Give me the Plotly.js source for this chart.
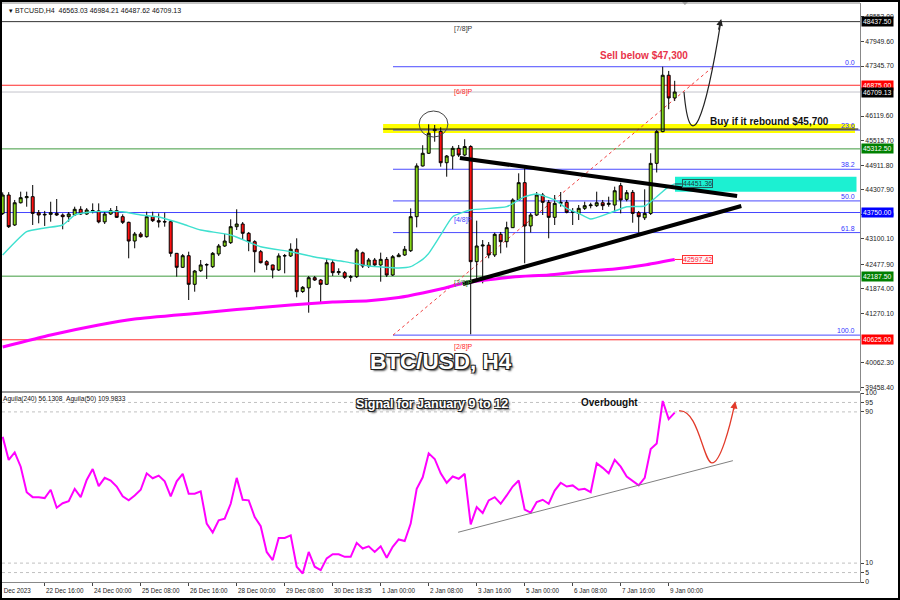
<!DOCTYPE html>
<html><head><meta charset="utf-8">
<script src="https://cdn.plot.ly/plotly-3.0.1.min.js"></script>
<style>
html,body{margin:0;padding:0;background:#fff;}
#wrap{position:relative;width:900px;height:600px;overflow:hidden;}
#chart{width:900px;height:600px;}
#frame{position:absolute;left:0;top:0;width:900px;height:600px;box-sizing:border-box;border:2px solid #000;pointer-events:none;}
</style></head><body>
<div id="wrap"><div id="chart"></div><div id="frame"></div></div>
<script>
// ---------------- DATA ----------------
const symbol = 'BTCUSD';
const timeframe = 'H4';

const barOpen = [43729,44180,43444,43990,44114,44139,43746,43689,43705,43729,
43689,43648,43689,43829,43713,43795,43790,43520,43713,43795,
43648,43510,43050,43222,43157,43648,43550,43517,43525,42748,
42405,42690,41987,42321,42462,42420,42732,42928,43010,43402,
43468,43240,43034,42788,42543,42462,42339,42683,42683,42848,
41810,41900,42150,42093,41987,42518,42273,42273,42159,42175,
42760,42437,42584,42462,42600,42216,42665,42707,42812,43648,
44893,45205,45760,45740,44973,45138,45327,45162,45370,42543,
42928,42950,42707,43215,43034,43378,44058,44483,43420,43689,
44180,44000,43632,43975,44000,43755,43729,43853,43918,43918,
43990,43950,43934,44410,44073,44245,43746,43620,43729,44958,
45737,47121,46563.03];

const barHigh = [44246,44250,44058,44262,44262,44426,43812,43790,44015,44082,
43729,43763,43893,43905,43860,43975,43975,43763,43860,43910,
43705,43525,43272,43272,43770,43770,43729,43746,43566,42757,
42732,42788,42339,42584,42503,42780,42978,43222,43584,43829,
43517,43272,43070,42830,42580,42470,42748,42732,42994,43117,
41945,42192,42192,42118,42626,42584,42380,42314,42216,42872,
42790,42634,42634,42765,42658,42707,42757,42928,43853,44958,
45403,45916,45899,45842,45162,45384,45408,45550,45403,43550,
43075,43025,43255,43272,43525,44100,44713,44836,43738,44254,
44230,44058,44180,44254,44058,43860,43934,44015,43990,44262,
44058,44139,44385,44482,44303,44303,43787,44320,45205,45778,
47330,47227,46984.21];

const barLow = [43689,43370,43420,43972,43893,43444,43485,43420,43525,43664,
43338,43525,43664,43689,43689,43729,43485,43468,43689,43616,
43468,42626,42872,43132,43132,43517,43383,43402,42665,42175,
42388,41602,41806,42290,42118,42388,42683,42904,42978,43321,
43100,42800,42280,42500,42339,42135,42314,42257,42658,41668,
41775,41290,42069,41520,41970,42192,42216,42118,42052,42142,
42388,42388,42437,42052,42167,42192,42658,42683,42780,43386,
44880,45188,45489,44875,44630,44812,45113,45138,40760,42093,
42011,42626,42658,42748,42890,43370,44050,42503,43260,43664,
43689,43117,43444,43893,43730,43444,43566,43812,43853,43885,
43812,43893,43770,43729,44025,43500,43255,43566,43689,44733,
45722,46287,46487.62];

const barClose = [44180,43402,43990,44114,44139,43729,43689,43705,43746,43689,
43648,43713,43829,43713,43812,43800,43520,43713,43795,43632,
43510,43050,43222,43157,43648,43550,43517,43525,42748,42405,
42690,41987,42314,42462,42470,42748,42928,43050,43402,43468,
43240,43034,42788,42518,42462,42339,42683,42690,42848,41806,
41913,42150,42093,41987,42518,42273,42298,42159,42175,42830,
42437,42584,42462,42600,42216,42665,42707,42848,43648,44893,
45205,45696,45794,44973,45138,45327,45162,45370,42543,42928,
42950,42707,43215,43034,43378,44058,44483,43420,43689,44180,
44000,43632,43975,44000,43755,43770,43853,43918,43934,43990,
43918,43975,44285,44058,44237,43729,43648,43729,44958,45737,
47121,46563,46709.13];

// Fast moving average (cyan) read at selected bars
const cyanIdx = [0,4,7,10,12,15,20,23,26,30,33,38,43,48,52,57,61,66,68,70,71,73,75,78,84,87,89,92,94,96,98,101,104,107,109,111,112];
const cyanVal = [42707,43280,43370,43444,43689,43770,43770,43689,43640,43468,43321,43198,42910,42788,42658,42543,42437,42388,42420,42600,42748,43200,43648,43812,43893,44139,44205,44058,43853,43729,43590,43729,43893,43910,44139,44385,44451.36];

// Slow moving average (magenta) read at selected bars
const magIdx = [0,8,16,22,33,39,48,55,61,66,70,73,77,85,91,96,102,107,112];
const magVal = [40448,40742,40988,41135,41282,41368,41479,41553,41585,41663,41774,41872,42020,42167,42216,42297,42363,42462,42597.42];

// Aguila oscillator (lower panel), one value per bar
const oscVal = [76.8,64.6,68.6,61,47.5,44.9,44.9,44.4,48.8,39.3,
41.7,42.8,49.3,44.9,54,59.8,50.7,55.1,53.7,50.5,
45.3,43.2,45.8,48.8,57.5,54.9,56.3,53.3,45.3,53.3,
57.2,46.7,46.7,48,30.9,26.2,32.6,33.5,41.4,55.1,
43.5,43.2,34.4,29.5,15.9,11.6,23.3,23.3,24.7,8.1,
4.5,15.9,8.1,6.3,12.5,14.7,14.7,13.3,13.3,20.7,
17.7,18.9,15.9,18.9,12.8,18.6,22.5,21.7,30.9,49.3,
55.4,68.1,65.1,57.5,52.5,55.8,54.6,57.2,30.5,39.6,
36.5,43.2,44.9,41.4,45.8,50.5,53.7,38.3,36.7,42.3,
43.5,41.4,48.4,52.5,50.5,51.1,48.8,49.3,47.5,62.8,
60.4,57.5,64.6,61,55.8,53.3,51.1,55.1,70.4,73.3,
95.8,86.2,89.6];
const oscHeader = 'Aguila(240) 56.1308\u00a0\u00a0Aguila(50) 109.9833';

// Time axis
const tickIdx = [7,15,23,31,39,47,55,63,71,79,87,95,103,111];
const tickLabels = ['22 Dec 16:00','24 Dec 00:00','25 Dec 08:00','26 Dec 16:00','28 Dec 00:00','29 Dec 08:00','30 Dec 18:35','1 Jan 00:00','2 Jan 08:00','3 Jan 16:00','5 Jan 00:00','6 Jan 08:00','7 Jan 16:00','9 Jan 00:00'];
const firstTickLabel = '21 Dec 2023';

// Price axis labels
const priceTicks = [48553.00,47949.60,47345.70,46119.60,45515.70,44911.80,44307.90,43704.00,43100.10,42477.90,41874.00,41270.10,40062.30,39458.40];
const oscTicks = [0,5,10,90,95,100];
const oscGrid = [5,10,90,95];

// Murrey math levels
const murreyLevels = [48437.5,46875,45312.5,43750,42187.5,40625];
const murreyNames = ['[7/8]P','[6/8]P','[5/8]P','[4/8]P','[3/8]P','[2/8]P'];
const murreyColors = ['#333333','#ff2b2b','#3f9b3f','#4444ff','#3f9b3f','#ff2b2b'];
const murreyBoxColors = ['#000000','#ff0000','#008000','#0000ff','#008000','#ff0000'];

// Fibonacci retracement
const fibHigh = 47330, fibLow = 40740;
const fibRatios = [0,0.236,0.382,0.5,0.618,1];
const fibLabels = ['0.0','23.6','38.2','50.0','61.8','100.0'];

// Analyst zones / notes
const buyZone = [45703,45924];
const buyLine = 45800;
const smaZone = [44262,44630];

// ---------------- BUILD ----------------
const idx = barOpen.map((_, k) => k);
const last = barClose.length - 1;
const XR = [-0.1167, 142.883];
const XRIGHT = 142.4;
const priceRange = [39367.6, 48894.9];
const fmt = v => v.toFixed(2);
const txtFont = 'Liberation Sans, Arial, sans-serif';

const traces = [
  {type:'candlestick', x:idx, open:barOpen, high:barHigh, low:barLow, close:barClose,
   xaxis:'x', yaxis:'y', hoverinfo:'skip', whiskerwidth:0,
   increasing:{line:{color:'#000',width:1}, fillcolor:'#86d817'},
   decreasing:{line:{color:'#000',width:1}, fillcolor:'#ff1010'}},
  {type:'scatter', mode:'lines', x:cyanIdx, y:cyanVal, xaxis:'x', yaxis:'y',
   line:{color:'#3fe0cf', width:1.4, shape:'spline', smoothing:0.5}, hoverinfo:'skip'},
  {type:'scatter', mode:'lines', x:magIdx, y:magVal, xaxis:'x', yaxis:'y',
   line:{color:'#ff00ff', width:3, shape:'spline', smoothing:0.5}, hoverinfo:'skip'},
  {type:'scatter', mode:'lines', x:idx, y:oscVal, xaxis:'x', yaxis:'y2',
   line:{color:'#ff00ff', width:2}, hoverinfo:'skip'}
];

const shapes = [];
const ann = [];

// panel frame pieces
shapes.push({type:'line', xref:'paper', yref:'paper', x0:0, x1:1, y0:1, y1:1, line:{color:'#888', width:1}});
shapes.push({type:'rect', xref:'paper', yref:'paper', x0:0, x1:1, y0:0.32642, y1:0.32988, fillcolor:'#9a9a9a', line:{width:0}});

// yellow buy zone
shapes.push({type:'rect', xref:'x', yref:'y', x0:63.4, x1:142.05, y0:buyZone[0], y1:buyZone[1], fillcolor:'#ffff00', line:{width:0}, layer:'below'});
// cyan zone
shapes.push({type:'rect', xref:'x', yref:'y', x0:112.05, x1:142.3, y0:smaZone[0], y1:smaZone[1], fillcolor:'#1cf0d2', line:{width:0}, layer:'below'});

// murrey lines
murreyLevels.forEach((lv, k) => {
  shapes.push({type:'line', xref:'paper', yref:'y', x0:0, x1:1, y0:lv, y1:lv, line:{color:murreyColors[k], width:1}, layer:'below'});
  ann.push({xref:'paper', x:1, xanchor:'left', xshift:1, yref:'y', y:lv, yanchor:'middle', text:fmt(lv), showarrow:false,
    font:{family:txtFont, size:6.8, color:'#fff'}, bgcolor:murreyBoxColors[k], borderpad:1});
  if (k !== 2) {
    ann.push({xref:'x', x:76.8, xanchor:'center', yref:'y', y:lv, yanchor:'top', yshift:-1, text:murreyNames[k], showarrow:false,
      font:{family:txtFont, size:7, color:murreyColors[k]}});
  }
});

// current price line
const cur = barClose[last];
shapes.push({type:'line', xref:'paper', yref:'y', x0:0, x1:1, y0:cur, y1:cur, line:{color:'#c4c4cc', width:1}, layer:'below'});
ann.push({xref:'paper', x:1, xanchor:'left', xshift:1, yref:'y', y:cur, yanchor:'middle', text:fmt(cur), showarrow:false,
  font:{family:txtFont, size:6.8, color:'#fff'}, bgcolor:'#000', borderpad:1});

// fibonacci
const fibStart = 65.05, fibEnd = 118.4;
fibRatios.forEach((r, k) => {
  const lv = fibHigh - r * (fibHigh - fibLow);
  shapes.push({type:'line', xref:'x', yref:'y', x0:fibStart, x1:142.883, y0:lv, y1:lv, line:{color:'#4b4bff', width:1}, layer:'below'});
  ann.push({xref:'x', x:XRIGHT, xanchor:'right', yref:'y', y:lv, yanchor:'bottom', yshift:-1, text:fibLabels[k], showarrow:false,
    font:{family:txtFont, size:7, color:'#3535ff'}});
});
shapes.push({type:'line', xref:'x', yref:'y', x0:fibStart, x1:fibEnd, y0:fibLow, y1:fibHigh, line:{color:'#f04040', width:1, dash:'dot'}, layer:'below'});

// black line in yellow band
shapes.push({type:'line', xref:'x', yref:'y', x0:63.4, x1:142.6, y0:buyLine, y1:buyLine, line:{color:'#111', width:1}});

// triangle trendlines
shapes.push({type:'line', xref:'x', yref:'y', x0:76.2, y0:45089, x1:122.4, y1:44156, line:{color:'#000', width:4}});
shapes.push({type:'line', xref:'x', yref:'y', x0:76.7, y0:41995, x1:123.1, y1:43910, line:{color:'#000', width:4}});

// circle on double top
shapes.push({type:'circle', xref:'x', yref:'y', x0:69.4, x1:74.2, y0:45604, y1:46243, line:{color:'#444', width:1}});

// projection curve (price)
shapes.push({type:'path', xref:'x', yref:'y', path:'M 113.55,46709 C 114.55,45040 117.05,46022 119.7,48450', line:{color:'#222', width:1.2}});
ann.push({xref:'x', yref:'y', x:119.75, y:48500, ax:-3, ay:12, showarrow:true, arrowhead:2, arrowsize:1.1, arrowwidth:1.2, arrowcolor:'#222', text:''});

// MA value labels
shapes.push({type:'line', xref:'x', yref:'y', x0:112, x1:113.2, y0:cyanVal[cyanVal.length-1], y1:cyanVal[cyanVal.length-1], line:{color:'#234', width:1}});
ann.push({xref:'x', x:113.2, xanchor:'left', yref:'y', y:cyanVal[cyanVal.length-1], yanchor:'middle', text:fmt(cyanVal[cyanVal.length-1]), showarrow:false,
  font:{family:txtFont, size:7, color:'#1b3b3b'}, bgcolor:'#1cf0d2', bordercolor:'#2a5a5a', borderwidth:1, borderpad:0});
shapes.push({type:'line', xref:'x', yref:'y', x0:112, x1:113.2, y0:magVal[magVal.length-1], y1:magVal[magVal.length-1], line:{color:'#ff3030', width:1}});
ann.push({xref:'x', x:113.2, xanchor:'left', yref:'y', y:magVal[magVal.length-1], yanchor:'middle', text:fmt(magVal[magVal.length-1]), showarrow:false,
  font:{family:txtFont, size:7, color:'#ff2040'}, bgcolor:'#fff4f4', bordercolor:'#ff3030', borderwidth:1, borderpad:0});

// oscillator grid and drawings
oscGrid.forEach(v => shapes.push({type:'line', xref:'paper', yref:'y2', x0:0, x1:1, y0:v, y1:v, line:{color:'#c0c0c0', width:1, dash:'dot'}, layer:'below'}));
shapes.push({type:'line', xref:'x', yref:'y2', x0:75.9, y0:26.3, x1:121.7, y1:64.2, line:{color:'#808080', width:1}});
shapes.push({type:'path', xref:'x', yref:'y2', path:'M 112.72,90.5 C 115.9,92 116.8,63 118.22,63 C 119.6,63 121.2,82 122.0,94.2', line:{color:'#e23a2a', width:1.3}});
ann.push({xref:'x', yref:'y2', x:122.1, y:95.6, ax:-2, ay:10, showarrow:true, arrowhead:2, arrowsize:1.1, arrowwidth:1.3, arrowcolor:'#e23a2a', text:''});

// top chart-shift marker
shapes.push({type:'path', xref:'paper', yref:'paper', path:'M 0.7902,1.0052 L 0.8019,1.0052 L 0.796,0.9965 Z', fillcolor:'#9a9a9a', line:{width:0}});

// header texts
ann.push({xref:'paper', x:0, xanchor:'left', xshift:5, yref:'paper', y:1, yanchor:'middle', yshift:-7,
  text:'\u25be ' + symbol + ',' + timeframe + '\u00a0\u00a0' + [barOpen[last], barHigh[last], barLow[last], barClose[last]].map(fmt).join(' '),
  showarrow:false, font:{family:txtFont, size:7, color:'#111'}});
ann.push({xref:'paper', x:0, xanchor:'left', xshift:-1, yref:'y2 domain', y:1, yanchor:'top', yshift:0, text:oscHeader,
  showarrow:false, font:{family:txtFont, size:6.6, color:'#111'}});

// annotation texts
const outline = '-1px -1px 0 #222, 1px -1px 0 #222, -1px 1px 0 #222, 1px 1px 0 #222, 2px 2px 2px #555';
ann.push({xref:'x', yref:'y', x:73.05, y:40129, yshift:-2, text:'<b>BTC/USD, H4</b>', showarrow:false,
  font:{family:txtFont, size:22.5, color:'#ffffff', shadow:outline}});
ann.push({xref:'x', yref:'y2', x:71.55, y:94.2, text:'<b>Signal for January 9 to 12</b>', showarrow:false,
  font:{family:txtFont, size:12.5, color:'#ffffff', shadow:outline}});
ann.push({xref:'x', yref:'y2', x:101.13, y:95.2, text:'<b>Overbought</b>', showarrow:false,
  font:{family:txtFont, size:10, color:'#111'}});
ann.push({xref:'x', yref:'y', x:106.9, y:47594, text:'<b>Sell below $47,300</b>', showarrow:false,
  font:{family:txtFont, size:10, color:'#e8334a'}});
ann.push({xref:'x', yref:'y', x:127.8, y:45997, text:'<b>Buy if it rebound $45,700</b>', showarrow:false,
  font:{family:txtFont, size:10, color:'#111'}});

// time labels
tickIdx.forEach((t, k) => ann.push({xref:'x', x:t, xanchor:'left', xshift:-1, yref:'paper', y:0, yanchor:'middle', yshift:-8,
  text:tickLabels[k], showarrow:false, font:{family:txtFont, size:6.3, color:'#222'}}));
ann.push({xref:'x', x:5.1, xanchor:'right', yref:'paper', y:0, yanchor:'middle', yshift:-8,
  text:firstTickLabel, showarrow:false, font:{family:txtFont, size:6.3, color:'#222'}});

const layout = {
  width:900, height:600, autosize:false,
  margin:{l:2, r:40, t:3, b:18, pad:0},
  paper_bgcolor:'#fff', plot_bgcolor:'#fff', showlegend:false,
  font:{family:txtFont, size:7, color:'#222'},
  xaxis:{range:XR, anchor:'y2', showgrid:false, zeroline:false, showline:true, linecolor:'#888', linewidth:1,
    tickmode:'array', tickvals:tickIdx, ticks:'outside', ticklen:3, tickcolor:'#444', showticklabels:false,
    rangeslider:{visible:false}, fixedrange:true},
  yaxis:{domain:[0.32988,1], range:priceRange, side:'right', anchor:'x', showgrid:false, zeroline:false,
    showline:true, linecolor:'#888', linewidth:1, tickmode:'array', tickvals:priceTicks, ticktext:priceTicks.map(fmt),
    ticks:'outside', ticklen:3, tickcolor:'#444', tickfont:{family:txtFont, size:6.8, color:'#222'}, fixedrange:true},
  yaxis2:{domain:[0,0.32642], range:[0,100], side:'right', anchor:'x', showgrid:false, zeroline:false,
    showline:true, linecolor:'#888', linewidth:1, tickmode:'array', tickvals:oscTicks, ticktext:oscTicks.map(String),
    ticks:'outside', ticklen:3, tickcolor:'#444', tickfont:{family:txtFont, size:6.8, color:'#222'}, fixedrange:true},
  shapes:shapes, annotations:ann
};

Plotly.newPlot('chart', traces, layout, {staticPlot:true, displayModeBar:false});
</script>
</body></html>
